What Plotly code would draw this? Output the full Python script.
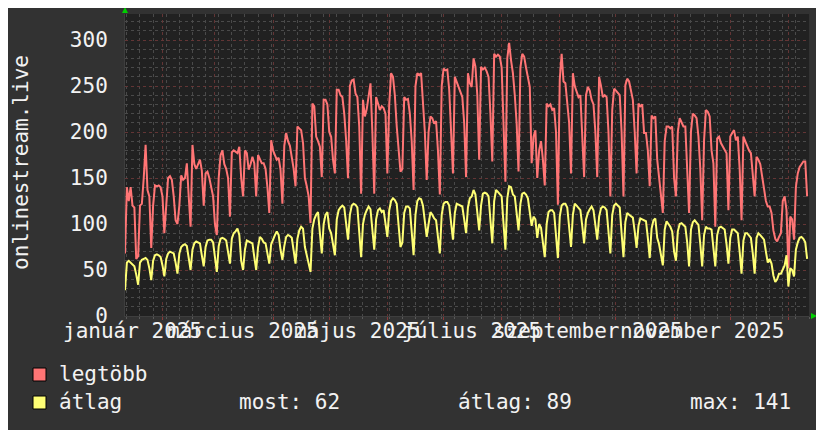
import pandas as pd
import plotly.graph_objects as go

# daily values, first day is Sunday 2025-01-12, then one row per week (Mon..Sun)
start_day = "2025-01-12"

max_values = [
    68,
    140, 125, 140, 120, 118, 62, 65,
    120, 122, 150, 186, 137, 130, 74,
    120, 142, 141, 142, 140, 130, 90,
    120, 150, 152, 148, 130, 104, 100,
    120, 153, 148, 150, 166, 130, 97,
    186, 165, 160, 166, 170, 158, 120,
    155, 157, 150, 140, 130, 100, 88,
    150, 175, 180, 165, 160, 150, 108,
    178, 180, 178, 177, 184, 150, 130,
    180, 177, 159, 165, 173, 166, 130,
    175, 170, 166, 166, 160, 140, 112,
    191, 180, 175, 170, 172, 159, 122,
    185, 199, 190, 185, 173, 160, 141,
    206, 204, 202, 188, 150, 141, 130,
    101, 231, 228, 195, 190, 184, 151,
    235, 235, 230, 200, 195, 170, 155,
    246, 246, 240, 238, 220, 191, 150,
    250, 256, 257, 242, 238, 206, 133,
    235, 217, 225, 238, 253, 200, 133,
    238, 230, 224, 228, 226, 220, 155,
    230, 264, 260, 240, 206, 180, 157,
    160, 238, 235, 236, 220, 190, 137,
    250, 264, 262, 264, 235, 200, 148,
    200, 217, 215, 209, 212, 180, 132,
    250, 269, 267, 268, 246, 200, 155,
    260, 255, 250, 245, 238, 210, 151,
    264, 253, 249, 280, 271, 240, 170,
    271, 268, 270, 266, 260, 220, 168,
    285, 282, 284, 282, 270, 210, 146,
    280, 297, 278, 264, 240, 209, 157,
    270, 285, 282, 270, 257, 249, 166,
    195, 202, 150, 180, 190, 170, 142,
    231, 228, 230, 224, 226, 200, 121,
    257, 285, 255, 253, 235, 210, 155,
    264, 250, 245, 238, 240, 200, 151,
    240, 249, 245, 235, 230, 200, 151,
    260, 250, 238, 240, 238, 200, 130,
    224, 247, 245, 242, 240, 200, 130,
    251, 258, 255, 246, 235, 200, 155,
    231, 228, 230, 199, 199, 180, 141,
    218, 215, 217, 170, 150, 130, 112,
    190, 206, 206, 204, 206, 150, 130,
    200, 215, 210, 206, 206, 155, 112,
    200, 220, 218, 215, 195, 160, 104,
    191, 224, 222, 217, 180, 166, 97,
    193, 195, 188, 184, 180, 177, 115,
    195, 199, 202, 191, 195, 160, 104,
    195, 190, 184, 180, 177, 150, 130,
    173, 170, 165, 151, 140, 125, 119,
    119, 112, 93, 84, 81, 86, 90,
    125, 130, 115, 52, 108, 105, 83,
    140, 155, 162, 165, 168, 168, 130,
]

avg_values = [
    28,
    58, 60, 58, 55, 54, 45, 34,
    58, 61, 62, 63, 61, 52, 39,
    60, 66, 67, 66, 64, 55, 43,
    62, 68, 70, 69, 68, 58, 46,
    68, 75, 77, 78, 76, 63, 50,
    72, 79, 81, 80, 79, 66, 54,
    75, 82, 83, 83, 80, 62, 48,
    76, 84, 85, 84, 82, 70, 57,
    84, 90, 92, 95, 88, 60, 50,
    72, 82, 81, 80, 79, 64, 50,
    75, 86, 84, 80, 79, 68, 57,
    78, 84, 88, 92, 88, 72, 61,
    76, 86, 88, 87, 85, 70, 57,
    84, 93, 97, 95, 75, 65, 55,
    48, 95, 105, 110, 113, 90, 68,
    100, 110, 113, 95, 90, 80, 66,
    105, 115, 118, 120, 118, 100, 83,
    110, 120, 122, 121, 118, 95, 64,
    100, 110, 115, 119, 116, 95, 72,
    105, 115, 117, 113, 115, 100, 86,
    115, 125, 128, 126, 122, 100, 75,
    80, 112, 119, 119, 117, 95, 66,
    110, 125, 128, 127, 120, 100, 86,
    100, 113, 110, 106, 104, 88, 68,
    110, 122, 124, 124, 120, 100, 83,
    112, 122, 121, 120, 119, 105, 90,
    118, 128, 130, 137, 132, 112, 93,
    120, 133, 134, 133, 130, 105, 79,
    125, 137, 135, 133, 130, 100, 72,
    128, 141, 140, 132, 130, 112, 93,
    122, 133, 134, 132, 128, 110, 98,
    108, 105, 85, 100, 96, 80, 64,
    100, 113, 115, 115, 112, 88, 63,
    108, 120, 122, 122, 118, 98, 75,
    110, 122, 120, 117, 115, 98, 79,
    105, 112, 116, 119, 115, 100, 83,
    108, 117, 119, 118, 115, 92, 68,
    110, 120, 122, 120, 118, 90, 64,
    102, 112, 110, 108, 107, 92, 74,
    98, 106, 105, 104, 103, 85, 63,
    95, 104, 106, 85, 78, 66, 55,
    94, 103, 100, 97, 92, 70, 60,
    92, 100, 101, 99, 97, 80, 54,
    94, 102, 104, 101, 99, 78, 54,
    88, 97, 95, 95, 94, 76, 54,
    88, 96, 97, 95, 94, 78, 57,
    85, 94, 94, 92, 90, 70, 46,
    82, 90, 90, 88, 85, 68, 46,
    85, 90, 88, 86, 83, 70, 58,
    62, 57, 44, 37, 40, 46, 46,
    50, 55, 66, 32, 52, 50, 43,
    72, 80, 85, 86, 84, 80, 62,
]

month_starts = [
    "2025-02-01", "2025-03-01", "2025-04-01", "2025-05-01", "2025-06-01",
    "2025-07-01", "2025-08-01", "2025-09-01", "2025-10-01", "2025-11-01",
    "2025-12-01", "2026-01-01",
]
# rrdtool puts each label half a month after its tick
label_dates = ["2025-01-16", "2025-03-16", "2025-05-16",
               "2025-07-16", "2025-09-16", "2025-11-16"]
label_texts = ["január 2025", "március 2025", "május 2025",
               "július 2025", "szeptember 2025", "november 2025"]

series_names = ["legtöbb", "átlag"]
series_colors = ["#ff7575", "#ffff75"]
stat_texts = ["most: 62", "átlag: 89", "max: 141"]

days = pd.date_range(start_day, periods=len(max_values), freq="D")

W, H = 824, 430
# the page puts the figure 8px in from the top-left corner
OFF = 8
PL, PT, PW, PH = 125, 14, 684, 302  # plot box on screen
FONT = "DejaVu Sans Mono"
TXT = "#f2f2f2"


def px(x):
    return (x - PL) / PW


def py(y):
    return (PT + PH - y) / PH


fig = go.Figure()
for name, vals, color in zip(series_names, [max_values, avg_values], series_colors):
    fig.add_trace(
        go.Scatter(
            x=days,
            y=vals,
            name=name,
            mode="lines",
            line=dict(color=color, width=2),
            showlegend=False,
        )
    )

annotations = []
for d, t in zip(label_dates, label_texts):
    annotations.append(
        dict(x=d, xref="x", y=py(331), yref="paper", text=t, showarrow=False,
             xanchor="center", yanchor="middle", font=dict(family=FONT, size=21, color=TXT))
    )
annotations.append(
    dict(x=px(8), y=py(163), xref="paper", yref="paper", text="onlinestream.live",
         textangle=-90, showarrow=False, xanchor="left", yanchor="middle",
         borderpad=0, font=dict(family=FONT, size=21, color=TXT))
)
# legend rows
for row, name in enumerate(series_names):
    annotations.append(
        dict(x=px(57), y=py(374 + 28 * row), xref="paper", yref="paper", text=name,
             showarrow=False, xanchor="left", yanchor="middle",
             font=dict(family=FONT, size=21, color=TXT))
    )
for xs, t in zip([237, 456, 688], stat_texts):
    annotations.append(
        dict(x=px(xs), y=py(402), xref="paper", yref="paper", text=t,
             showarrow=False, xanchor="left", yanchor="middle",
             font=dict(family=FONT, size=21, color=TXT))
    )

shapes = []
for row, color in enumerate(series_colors):
    y0 = 368 + 28 * row
    shapes.append(
        dict(type="rect", xref="paper", yref="paper", x0=px(33), x1=px(46),
             y0=py(y0), y1=py(y0 + 13), fillcolor=color, line=dict(color="#000000", width=1))
    )
# green arrow heads at the axis ends
shapes.append(
    dict(type="path", xref="paper", yref="paper", fillcolor="#00d000", line=dict(width=0),
         path=f"M {px(122)} {py(13)} L {px(128)} {py(13)} L {px(125)} {py(7)} Z")
)
shapes.append(
    dict(type="path", xref="paper", yref="paper", fillcolor="#00d000", line=dict(width=0),
         path=f"M {px(811)} {py(313)} L {px(811)} {py(319)} L {px(817)} {py(316)} Z")
)

fig.update_layout(
    width=W,
    height=H,
    margin=dict(l=PL - OFF, r=W - (PL - OFF) - PW, t=PT - OFF, b=H - (PT - OFF) - PH, pad=0),
    paper_bgcolor="#323232",
    plot_bgcolor="#212121",
    font=dict(family=FONT, color=TXT),
    annotations=annotations,
    shapes=shapes,
    xaxis=dict(
        type="date",
        range=["2025-01-12", "2026-01-12"],
        tickmode="array",
        tickvals=month_starts,
        showticklabels=False,
        showgrid=True,
        gridcolor="#633535",
        griddash="dot",
        gridwidth=1,
        ticks="outside",
        ticklen=3,
        tickcolor="#8a3a3a",
        minor=dict(tick0="2025-01-13", dtick=7 * 86400000, showgrid=True,
                   gridcolor="#4a4a4a", griddash="dot", ticks="outside",
                   ticklen=2, tickcolor="#5a5a5a"),
        showline=True,
        linecolor="#3e3e3e",
        zeroline=False,
        fixedrange=True,
    ),
    yaxis=dict(
        range=[0, 328.3],
        tickmode="linear",
        tick0=0,
        dtick=50,
        tickfont=dict(family=FONT, size=21, color=TXT),
        ticks="",
        ticklabelstandoff=12,
        showgrid=True,
        gridcolor="#633535",
        griddash="dot",
        minor=dict(dtick=10, showgrid=True, gridcolor="#4a4a4a", griddash="dot"),
        showline=True,
        linecolor="#3e3e3e",
        zeroline=False,
        fixedrange=True,
    ),
)

fig.write_html("out.html")
